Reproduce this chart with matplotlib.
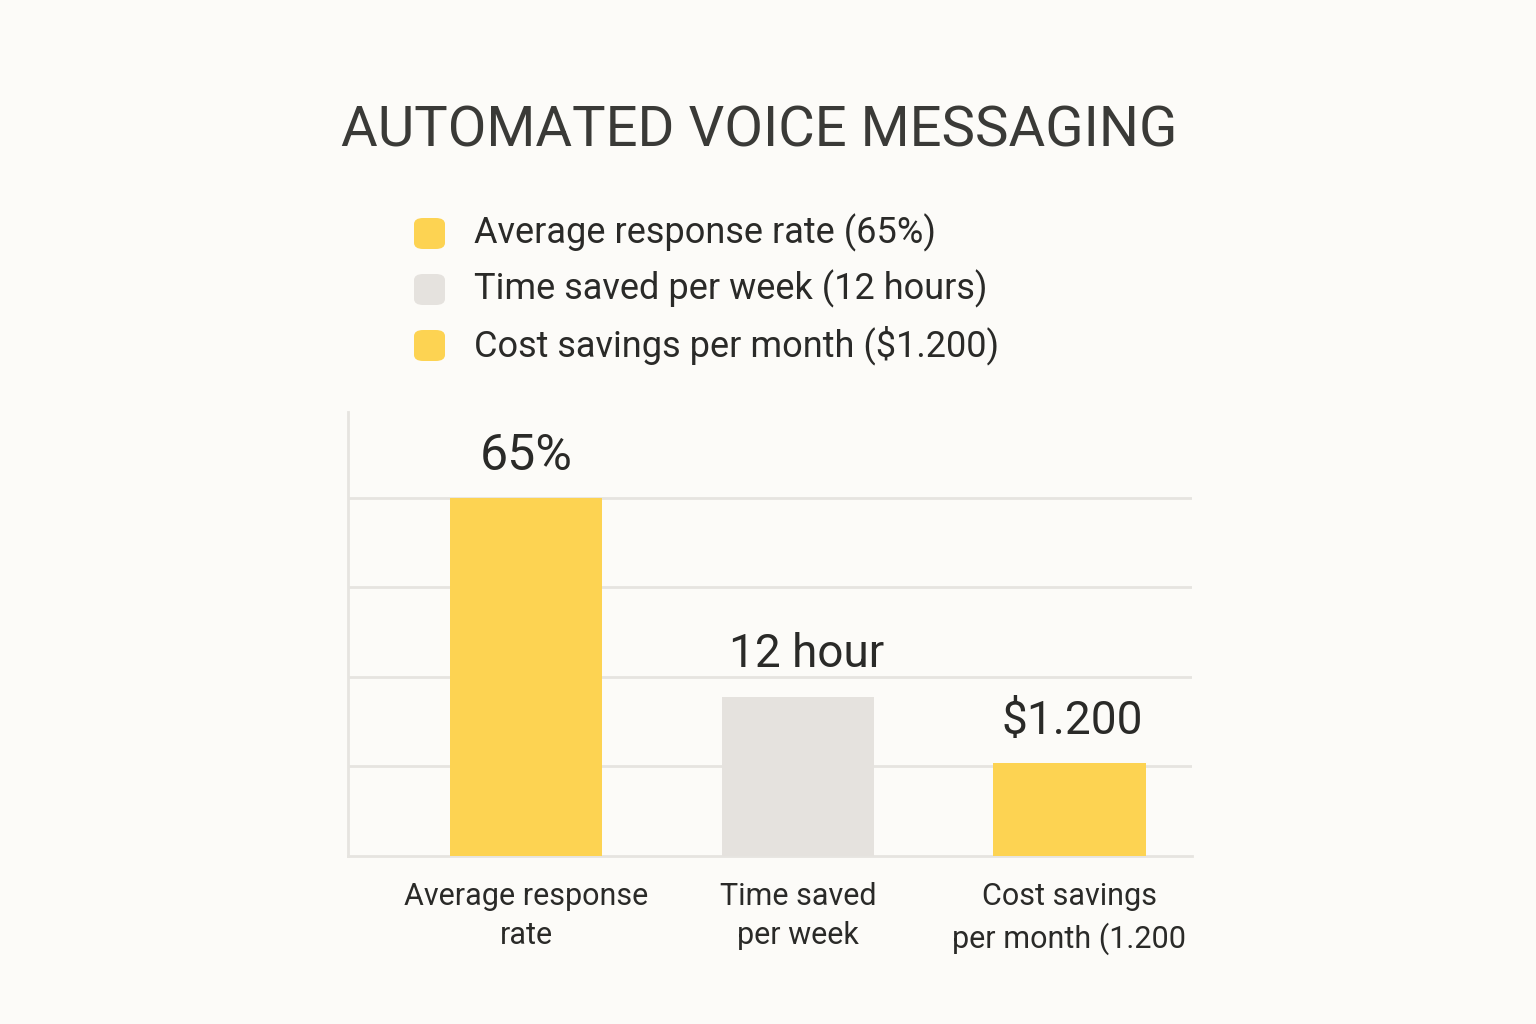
import matplotlib.pyplot as plt
from matplotlib.patches import FancyBboxPatch

categories = ["Average response\nrate", "Time saved\nper week", "Cost savings\nper month (1.200"]
# bar heights as drawn (relative scale, the three metrics have different units)
bar_heights = [65, 28.9, 16.9]
value_labels = ["65%", "12 hour", "$1.200"]
legend_labels = ["Average response rate (65%)", "Time saved per week (12 hours)",
                 "Cost savings per month ($1.200)"]
grid_ticks = [16.25, 32.5, 48.75, 65]

yellow = "#FDD352"
grey = "#E5E2DE"
bar_colors = [yellow, grey, yellow]
bg = "#FCFBF8"
line_col = "#E6E4E0"
text_col = "#2A2A28"

plt.rcParams['font.family'] = ['Roboto', 'DejaVu Sans']

fig = plt.figure(figsize=(15.36, 10.24), dpi=100, facecolor=bg)
ax = fig.add_axes([348 / 1536, 1 - 856 / 1024, (1192 - 348) / 1536, (856 - 412) / 1024])
ax.set_facecolor(bg)

x = range(len(categories))
bars = ax.bar(x, bar_heights, width=0.56, color=bar_colors, zorder=3)

ax.set_xlim(-0.656, 2.451)
ax.set_ylim(0, 80.6)
for t in grid_ticks:
    ax.axhline(t, color=line_col, linewidth=2, zorder=1)

for s in ["top", "right"]:
    ax.spines[s].set_visible(False)
for s in ["left", "bottom"]:
    ax.spines[s].set_color(line_col)
    ax.spines[s].set_linewidth(2)
ax.set_yticks([])
ax.set_xticks(list(x))
ax.set_xticklabels(categories, fontsize=22, color=text_col, linespacing=1.42)
ax.tick_params(axis="x", length=0, pad=19)

offsets = [(0, 13), (6, 15), (2, 14)]
sizes = [36, 33, 33]
for b, lab, off, fs in zip(bars, value_labels, offsets, sizes):
    ax.annotate(lab, (b.get_x() + b.get_width() / 2, b.get_height()),
                xytext=off, textcoords="offset points", ha="center", va="bottom",
                fontsize=fs, color=text_col)

fig.text(759 / 1536, 1 - 131 / 1024, "AUTOMATED VOICE MESSAGING", ha="center", va="center",
         fontsize=40.5, color="#3A3A37")

legend_y = [233, 289, 345]
for yy, lab, col in zip(legend_y, legend_labels, bar_colors):
    fig.add_artist(FancyBboxPatch((414 / 1536, 1 - (yy + 16) / 1024), 31 / 1536, 31 / 1024,
                                  boxstyle="round,pad=0,rounding_size=0.006",
                                  transform=fig.transFigure, facecolor=col, edgecolor="none"))
    fig.text(474 / 1536, 1 - yy / 1024, lab, ha="left", va="center", fontsize=26, color=text_col)

fig.savefig("out.png", facecolor=bg)
